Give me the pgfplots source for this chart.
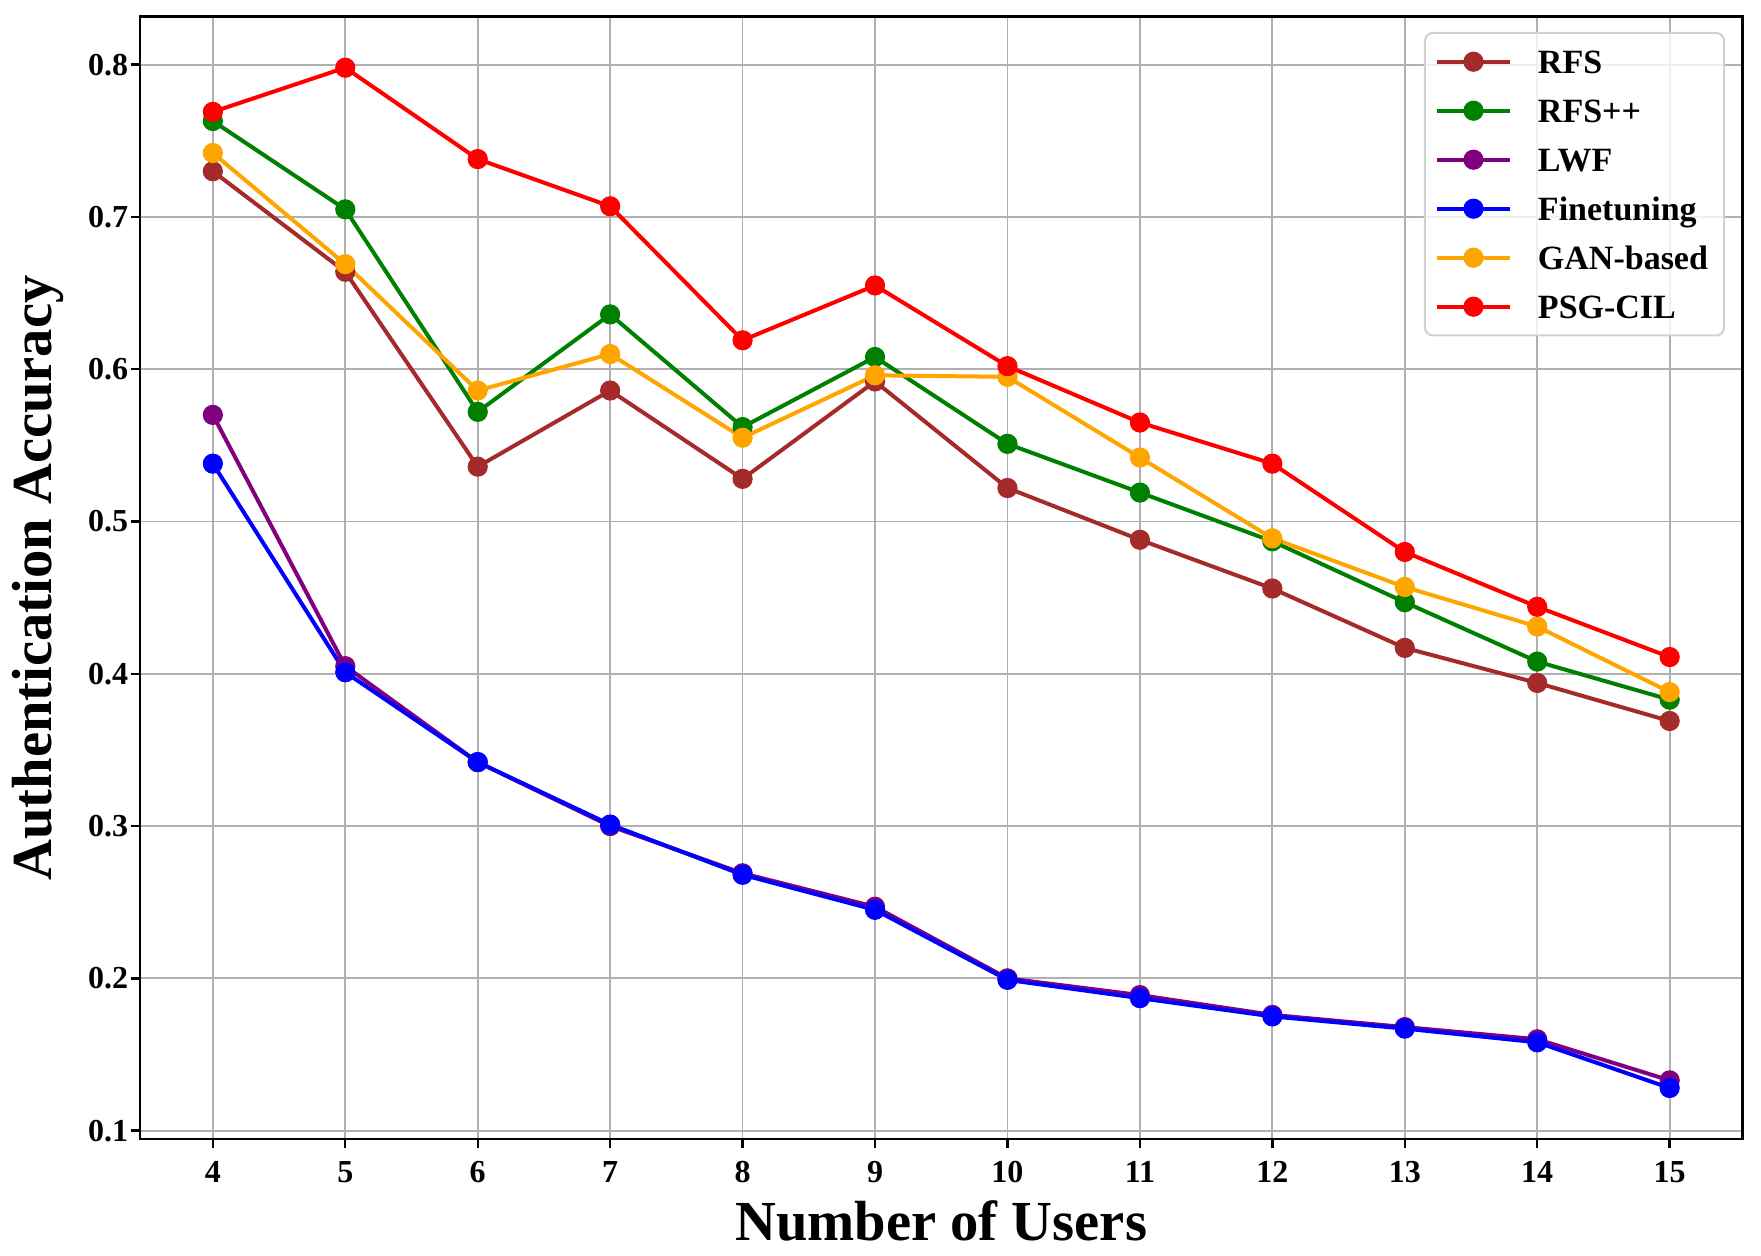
\documentclass[border=0pt]{standalone}
\usepackage{fontspec}
\setmainfont{Liberation Serif}
\usepackage{pgfplots}
\pgfplotsset{compat=1.18}
\definecolor{cbrown}{HTML}{A52A2A}
\definecolor{cgreen}{HTML}{008000}
\definecolor{cpurple}{HTML}{800080}
\definecolor{cblue}{HTML}{0000FF}
\definecolor{corange}{HTML}{FFA500}
\definecolor{cred}{HTML}{FF0000}
\definecolor{gridgray}{HTML}{B0B0B0}
\begin{document}
\begin{tikzpicture}
\useasboundingbox (-70pt,-58pt) rectangle (810.5pt,569.5pt);
\begin{axis}[
  at={(0pt,0pt)}, anchor=south west,
  scale only axis, width=801.25pt, height=561.15pt,
  xmin=3.45, xmax=15.55, ymin=0.0945, ymax=0.8315,
  xtick={4,5,6,7,8,9,10,11,12,13,14,15},
  xticklabels={4,5,6,7,8,9,10,11,12,13,14,15},
  ytick={0.1,0.2,0.3,0.4,0.5,0.6,0.7,0.8},
  yticklabels={0.1,0.2,0.3,0.4,0.5,0.6,0.7,0.8},
  grid=major, major grid style={gridgray, line width=0.9pt},
  axis line style={line width=1.2pt},
  tick align=outside, xtick pos=bottom, ytick pos=left,
  major tick length=4.7pt, tick style={black, line width=1.2pt},
  ticklabel style={font=\bfseries\fontsize{16}{19}\selectfont},
  xticklabel style={anchor=base, yshift=-17pt},
  yticklabel style={anchor=east, inner sep=0pt, xshift=-1pt},
  xlabel={Number of Users}, ylabel={Authentication Accuracy},
  label style={font=\bfseries\fontsize{28.3}{33}\selectfont},
  xlabel style={at={(axis description cs:0.5,-0.0905)}, anchor=base},
  ylabel style={at={(axis description cs:-0.0555,0.5)}, anchor=base},
  legend cell align=left,
  legend image code/.code={\draw[mark repeat=2,mark phase=2,opacity=1,#1,line width=2pt] plot coordinates {(0pt,0pt)(18.25pt,0pt)(36.5pt,0pt)};},
  legend style={at={(rel axis cs:1,1)}, anchor=north east, xshift=-8.75pt, yshift=-7.6pt,
    draw=black!18, line width=1pt, rounded corners=4pt, fill=white, fill opacity=0.8, text opacity=1,
    font=\bfseries\fontsize{17}{20}\selectfont,
    inner xsep=5pt, inner ysep=4.4pt, row sep=4.5pt, column sep=10pt,
    nodes={inner xsep=3pt, inner ysep=2pt, text height=14pt, text depth=2pt}},
  every axis plot/.append style={line width=2pt, mark=*, mark size=4.8pt},
]
\addplot[color=cbrown, mark options={solid, line width=0.5pt, fill=cbrown, opacity=1}] coordinates {
(4,0.730) (5,0.664) (6,0.536) (7,0.586) (8,0.528) (9,0.592) (10,0.522) (11,0.488) (12,0.456) (13,0.417) (14,0.394) (15,0.369)};
\addlegendentry{RFS}
\addplot[color=cgreen, mark options={solid, line width=0.5pt, fill=cgreen, opacity=1}] coordinates {
(4,0.763) (5,0.705) (6,0.572) (7,0.636) (8,0.562) (9,0.608) (10,0.551) (11,0.519) (12,0.487) (13,0.447) (14,0.408) (15,0.383)};
\addlegendentry{RFS++}
\addplot[color=cpurple, mark options={solid, line width=0.5pt, fill=cpurple, opacity=1}] coordinates {
(4,0.570) (5,0.405) (6,0.342) (7,0.300) (8,0.269) (9,0.247) (10,0.200) (11,0.189) (12,0.176) (13,0.168) (14,0.160) (15,0.133)};
\addlegendentry{LWF}
\addplot[color=cblue, mark options={solid, line width=0.5pt, fill=cblue, opacity=1}] coordinates {
(4,0.538) (5,0.401) (6,0.342) (7,0.301) (8,0.268) (9,0.245) (10,0.199) (11,0.187) (12,0.175) (13,0.167) (14,0.158) (15,0.128)};
\addlegendentry{Finetuning}
\addplot[color=corange, mark options={solid, line width=0.5pt, fill=corange, opacity=1}] coordinates {
(4,0.742) (5,0.669) (6,0.586) (7,0.610) (8,0.555) (9,0.596) (10,0.595) (11,0.542) (12,0.489) (13,0.457) (14,0.431) (15,0.388)};
\addlegendentry{GAN-based}
\addplot[color=cred, mark options={solid, line width=0.5pt, fill=cred, opacity=1}] coordinates {
(4,0.769) (5,0.798) (6,0.738) (7,0.707) (8,0.619) (9,0.655) (10,0.602) (11,0.565) (12,0.538) (13,0.480) (14,0.444) (15,0.411)};
\addlegendentry{PSG-CIL}
\end{axis}
\end{tikzpicture}
\end{document}
